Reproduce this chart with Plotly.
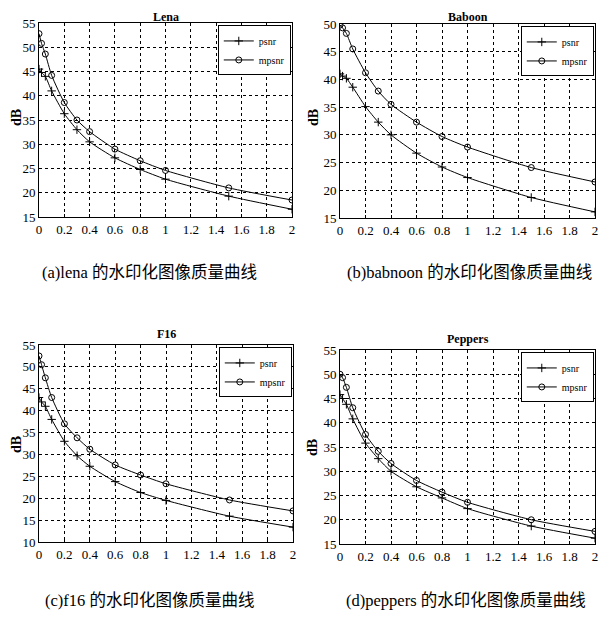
import plotly.graph_objects as go

# ---------------- data ----------------
x_vals = [0, 0.02, 0.05, 0.1, 0.2, 0.3, 0.4, 0.6, 0.8, 1.0, 1.5, 2.0]

lena_psnr = [45.5, 44.8, 44.0, 41.0, 36.3, 33.0, 30.5, 27.2, 24.8, 22.8, 19.3, 16.6]
lena_mpsnr = [52.8, 50.8, 48.6, 44.2, 38.6, 35.0, 32.6, 29.0, 26.6, 24.6, 21.0, 18.5]

baboon_psnr = [41.0, 40.6, 40.2, 38.6, 35.1, 32.3, 30.0, 26.7, 24.2, 22.3, 18.7, 16.1]
baboon_mpsnr = [49.8, 49.3, 48.3, 45.5, 41.2, 37.9, 35.5, 32.3, 29.7, 27.8, 24.1, 21.5]

f16_psnr = [43.0, 42.0, 41.0, 38.0, 33.0, 29.7, 27.3, 23.8, 21.3, 19.5, 15.9, 13.4]
f16_mpsnr = [52.5, 50.5, 47.5, 43.0, 37.0, 33.8, 31.2, 27.6, 25.3, 23.3, 19.6, 17.1]

peppers_psnr = [45.8, 45.0, 43.8, 40.8, 35.8, 32.6, 30.0, 26.8, 24.5, 22.3, 18.7, 16.2]
peppers_mpsnr = [50.0, 49.3, 47.3, 43.1, 37.6, 34.1, 31.6, 28.1, 25.7, 23.6, 20.0, 17.6]

titles = ["Lena", "Baboon", "F16", "Peppers"]
captions = ["(a)lena 的水印化图像质量曲线", "(b)babnoon 的水印化图像质量曲线",
            "(c)f16 的水印化图像质量曲线", "(d)peppers 的水印化图像质量曲线"]
y_ranges = [[15, 55], [15, 50], [10, 55], [15, 55]]
series_names = ["psnr", "mpsnr"]

# ---------------- layout geometry ----------------
# page body has an 8px margin; figure is sized to fit the window
OFF = 8
W, H = 611 - OFF, 620 - OFF
def px(xp):
    return (xp - OFF) / W
def py(yp):
    return 1 - (yp - OFF) / H

domains = [
    ([px(39), px(292)], [py(217), py(23)]),
    ([px(340), px(595)], [py(218), py(24)]),
    ([px(39), px(293)], [py(542), py(345)]),
    ([px(340), px(595)], [py(544), py(350)]),
]
ylabel_pos = [(16, 118), (313, 118), (16, 445), (312, 448)]
caption_pos = [(149, 272), (469, 272), (149, 600), (466, 600)]

data_sets = [
    (lena_psnr, lena_mpsnr),
    (baboon_psnr, baboon_mpsnr),
    (f16_psnr, f16_mpsnr),
    (peppers_psnr, peppers_mpsnr),
]

SERIF = "Liberation Serif"
CJK = "Liberation Serif, Noto Sans CJK SC"

fig = go.Figure()
annotations = []

for i, ((ps, mps), (xd, yd)) in enumerate(zip(data_sets, domains)):
    n = "" if i == 0 else str(i + 1)
    leg = "legend" if i == 0 else f"legend{i + 1}"
    fig.add_trace(go.Scatter(
        x=x_vals, y=ps, name=series_names[0], mode="lines+markers",
        line=dict(color="black", width=1, shape="spline", smoothing=0.6),
        marker=dict(symbol="cross-thin", size=6, color="black",
                    line=dict(color="black", width=1)),
        xaxis="x" + n, yaxis="y" + n, legend=leg))
    fig.add_trace(go.Scatter(
        x=x_vals, y=mps, name=series_names[1], mode="lines+markers",
        line=dict(color="black", width=1, shape="spline", smoothing=0.6),
        marker=dict(symbol="circle-open", size=6, color="black",
                    line=dict(color="black", width=1)),
        xaxis="x" + n, yaxis="y" + n, legend=leg))

    axis_common = dict(
        showline=True, mirror=True, linecolor="black", linewidth=1,
        showgrid=True, gridcolor="black", gridwidth=1, griddash="dot",
        ticks="inside", ticklen=3, tickcolor="black",
        tickfont=dict(family=SERIF, size=13, color="black"),
        zeroline=False, automargin=False,
    )
    fig.update_layout(**{
        "xaxis" + n: dict(domain=xd, range=[0, 2], dtick=0.2, tick0=0,
                          anchor="y" + n, **axis_common),
        "yaxis" + n: dict(domain=yd, range=y_ranges[i], dtick=5,
                          anchor="x" + n, **axis_common),
        leg: dict(x=xd[1] - 0.002, y=yd[1] - 0.004, xanchor="right", yanchor="top",
                  bgcolor="white", bordercolor="black", borderwidth=1,
                  font=dict(family=SERIF, size=10, color="black"),
                  tracegroupgap=0, itemwidth=30,
                  ),
    })

    if i < 2:
        t_y, t_anchor = 1.0, "top"
    else:
        t_y, t_anchor = yd[1] + 0.004, "bottom"
    annotations.append(dict(
        text=f"<b>{titles[i]}</b>", x=(xd[0] + xd[1]) / 2, y=t_y,
        xref="paper", yref="paper", xanchor="center", yanchor=t_anchor,
        showarrow=False, font=dict(family=SERIF, size=12, color="black")))
    lx, ly = ylabel_pos[i]
    annotations.append(dict(
        text="<b>dB</b>", x=px(lx), y=py(ly), xref="paper", yref="paper",
        xanchor="center", yanchor="middle", textangle=-90, showarrow=False,
        font=dict(family=SERIF, size=14, color="black")))
    cx, cy = caption_pos[i]
    annotations.append(dict(
        text=captions[i], x=px(cx), y=py(cy), xref="paper", yref="paper",
        xanchor="center", yanchor="middle", showarrow=False,
        font=dict(family=CJK, size=16.5, color="black")))

fig.update_layout(
    width=W, height=H,
    margin=dict(l=0, r=0, t=0, b=0, autoexpand=False),
    paper_bgcolor="white", plot_bgcolor="white",
    annotations=annotations,
    showlegend=True,
)

fig.write_html("out.html")
